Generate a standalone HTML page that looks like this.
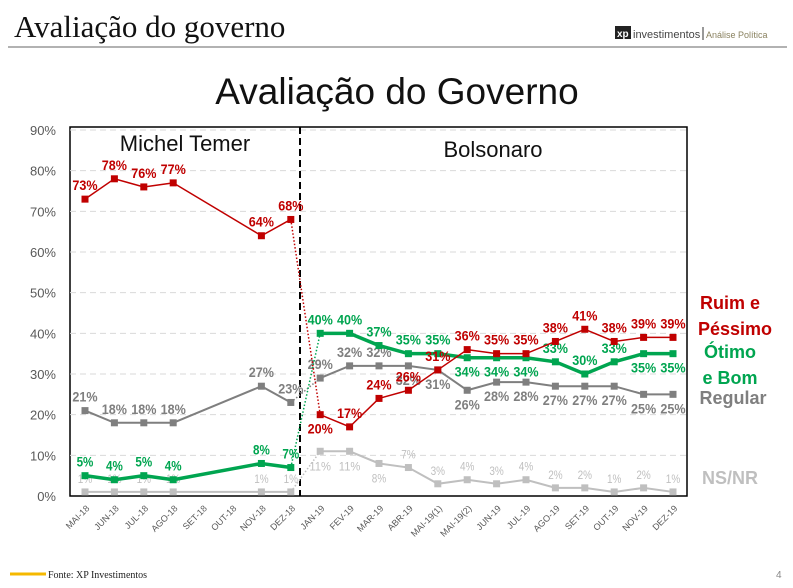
<!DOCTYPE html>
<html><head><meta charset="utf-8"><style>
body{margin:0;width:793px;height:588px;background:#fff;overflow:hidden;font-family:"Liberation Sans",sans-serif}
svg{position:absolute;left:0;top:0}
</style></head><body>
<svg width="793" height="588" viewBox="0 0 793 588">
<text x="14" y="37" font-family="Liberation Serif,serif" font-size="31" fill="#111">Avaliação do governo</text>
<line x1="8" y1="47" x2="787" y2="47" stroke="#999" stroke-width="1.5"/>
<rect x="615" y="26" width="16" height="13" fill="#222"/>
<text x="617" y="37" font-size="10" font-weight="bold" fill="#fff">xp</text>
<text x="633" y="38" font-size="11" fill="#444">investimentos</text>
<line x1="703" y1="27" x2="703" y2="40" stroke="#333"/>
<text x="706" y="38" font-size="9" fill="#8a8260">Análise Política</text>
<text x="397" y="104" text-anchor="middle" font-size="37" fill="#111">Avaliação do Governo</text>
<rect x="70" y="127" width="617" height="369" fill="none" stroke="#000" stroke-width="1.5"/>
<g id="grid"></g><g id="ylab"></g><g id="xlab"></g>
<line x1="300" y1="127" x2="300" y2="496" stroke="#000" stroke-width="2" stroke-dasharray="7,4"/>
<text x="185" y="151" text-anchor="middle" font-size="22" fill="#111">Michel Temer</text>
<text x="493" y="157" text-anchor="middle" font-size="22" fill="#111">Bolsonaro</text>
<g id="series"></g>
<text x="735" y="309" text-anchor="middle" font-size="18" font-weight="bold" fill="#c00000"><tspan x="730">Ruim e</tspan><tspan x="735" dy="26">Péssimo</tspan></text>
<text x="730" y="358" text-anchor="middle" font-size="18" font-weight="bold" fill="#00a550"><tspan x="730">Ótimo</tspan><tspan x="730" dy="26">e Bom</tspan></text>
<text x="733" y="404" text-anchor="middle" font-size="18" font-weight="bold" fill="#7f7f7f">Regular</text>
<text x="730" y="484" text-anchor="middle" font-size="18" font-weight="bold" fill="#bfbfbf">NS/NR</text>
<line x1="10" y1="574" x2="46" y2="574" stroke="#f5b800" stroke-width="3"/>
<text x="48" y="578" font-family="Liberation Serif,serif" font-size="10" fill="#222">Fonte: XP Investimentos</text>
<text x="776" y="578" font-size="10" fill="#888">4</text>
</svg>
<script>
const categories=["MAI-18","JUN-18","JUL-18","AGO-18","SET-18","OUT-18","NOV-18","DEZ-18","JAN-19","FEV-19","MAR-19","ABR-19","MAI-19(1)","MAI-19(2)","JUN-19","JUL-19","AGO-19","SET-19","OUT-19","NOV-19","DEZ-19"];
const ruim=[73,78,76,77,null,null,64,68,20,17,24,26,31,36,35,35,38,41,38,39,39];
const otimo=[5,4,5,4,null,null,8,7,40,40,37,35,35,34,34,34,33,30,33,35,35];
const regular=[21,18,18,18,null,null,27,23,29,32,32,32,31,26,28,28,27,27,27,25,25];
const nsnr=[1,1,1,1,null,null,1,1,11,11,8,7,3,4,3,4,2,2,1,2,1];
const yTicks=[0,10,20,30,40,50,60,70,80,90];
const ruimPos="aaaa--aabaaaaaaaaaaaa";
const otimoPos="aaaa--aaaaaaabbbaaabb";
const regularPos="aaaa--aaaaabbbbbbbbbb";
const nsnrPos="aaaa--aabbbaaaaaaaaaa";
const NS="http://www.w3.org/2000/svg";
const x=i=>85+i*(673-85)/(categories.length-1);
const y=v=>496-v*(496-130)/90;
function mk(t,a,p){const e=document.createElementNS(NS,t);for(const k in a)e.setAttribute(k,a[k]);p.appendChild(e);return e;}
const grid=document.getElementById('grid'),yl=document.getElementById('ylab'),xl=document.getElementById('xlab'),sg=document.getElementById('series');
yTicks.forEach(t=>{
 if(t>0){const g=mk('line',{x1:70,x2:687,y1:y(t),y2:y(t),stroke:'#d9d9d9','stroke-dasharray':'6,4'},grid);
 
 }
 const l=mk('text',{x:56,y:y(t)+5,'text-anchor':'end','font-size':13,fill:'#595959'},yl);l.textContent=t+'%';
 
 
});
categories.forEach((c,i)=>{
 const l=mk('text',{transform:`translate(${x(i)+5},${509}) rotate(-45)`,'text-anchor':'end','font-size':9,fill:'#595959'},xl);l.textContent=c;
 
 
});
function draw(name,data,pos,color,lc,w,fs,fw){
 const g=mk('g',{},sg);
 
 
 const p1=[0,1,2,3].map(i=>x(i)+','+y(data[i])).join(' ');
 mk('polyline',{points:p1,fill:'none',stroke:lc,'stroke-width':w},g);
 mk('polyline',{points:x(3)+','+y(data[3])+' '+x(6)+','+y(data[6])+' '+x(7)+','+y(data[7]),fill:'none',stroke:lc,'stroke-width':w},g);
 mk('line',{x1:x(7),y1:y(data[7]),x2:x(8),y2:y(data[8]),stroke:lc,'stroke-width':1.5,'stroke-dasharray':'1.5,2'},g);
 const p2=data.map((v,i)=>i>=8?x(i)+','+y(v):null).filter(Boolean).join(' ');
 mk('polyline',{points:p2,fill:'none',stroke:lc,'stroke-width':w},g);
 data.forEach((v,i)=>{if(v===null)return;
  const m=mk('rect',{x:x(i)-3.5,y:y(v)-3.5,width:7,height:7,fill:lc},g);
  
  
  const ty=pos[i]==='a'?y(v)-9:y(v)+19;
  const s=v+'%';
  const t=mk('text',{x:x(i),y:ty,'text-anchor':'middle','font-size':fs,'font-weight':fw,fill:color,'textLength':fs*0.6*s.length,'lengthAdjust':'spacingAndGlyphs'},g);t.textContent=s;
  
  
 });
}
draw('nsnr',nsnr,nsnrPos,'#bfbfbf','#bfbfbf',2,12,'normal');
draw('regular',regular,regularPos,'#7f7f7f','#7f7f7f',2,14,'bold');
draw('otimo',otimo,otimoPos,'#00a550','#00a550',3.5,14,'bold');
draw('ruim',ruim,ruimPos,'#c00000','#c00000',1.5,14,'bold');
</script>
</body></html>
